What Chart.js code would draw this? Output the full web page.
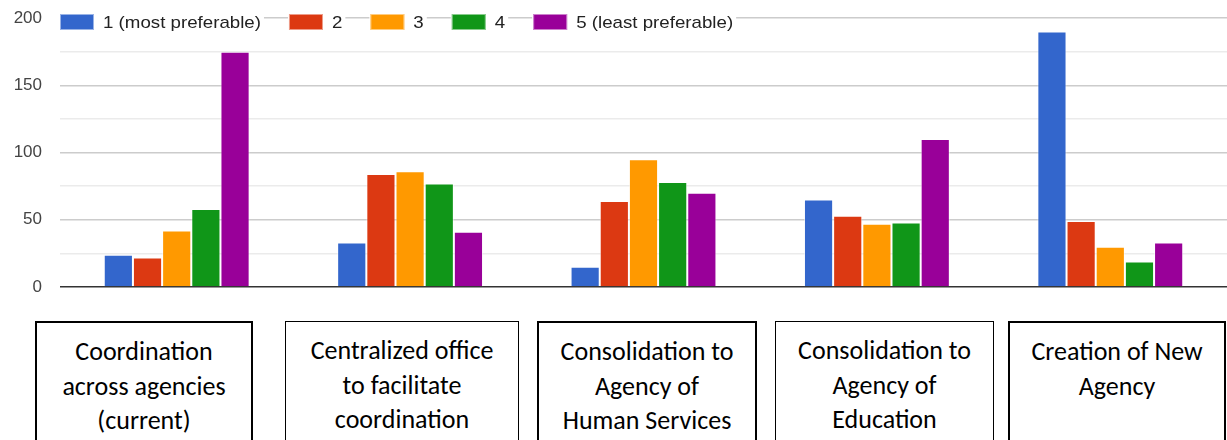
<!DOCTYPE html>
<html>
<head>
<meta charset="utf-8">
<script src="https://cdn.jsdelivr.net/npm/chart.js"></script>
<style>
  html, body { margin: 0; padding: 0; background: #fff; }
  body { width: 1227px; height: 440px; position: relative; overflow: hidden; }
  #wrap { position: absolute; left: 0; top: 0; width: 1227px; height: 316px; }
  .box {
    position: absolute; top: 321px; height: 140px; box-sizing: border-box;
    border: 2px solid #000; background: #fff; text-align: center;
    font-family: Carlito, Lato, "Open Sans", sans-serif; font-size: 26px;
    line-height: 34.5px; padding-top: 11px; color: #000;
  }
  .b0 { left: 35px; width: 218px; }
  .b1 { left: 285px; width: 234px; border-width: 1.5px; }
  .b2 { left: 537px; width: 220px; }
  .b3 { left: 775px; width: 219px; border-width: 1.5px; }
  .b4 { left: 1008px; width: 218px; }
</style>
</head>
<body>
<div id="wrap"><canvas id="chart" width="1227" height="316"></canvas></div>

<script>
// Categorías (una línea por renglón del recuadro)
var categories = [
    ['Coordination', 'across agencies', '(current)'],
    ['Centralized office', 'to facilitate', 'coordination'],
    ['Consolidation to', 'Agency of', 'Human Services'],
    ['Consolidation to', 'Agency of', 'Education'],
    ['Creation of New', 'Agency']
];

var seriesLabels = ['1 (most preferable)', '2', '3', '4', '5 (least preferable)'];
var seriesColors = ['#3366cc', '#dc3912', '#ff9900', '#109618', '#990099'];

// Valores
var rank1 = [24, 33, 15, 65, 190];
var rank2 = [22, 84, 64, 53, 49];
var rank3 = [42, 86, 95, 47, 30];
var rank4 = [58, 77, 78, 48, 19];
var rank5 = [175, 41, 70, 110, 33];

var yTickLabels = [0, 50, 100, 150, 200];
var yMax = 200;
var yStep = 25;

var seriesValues = [rank1, rank2, rank3, rank4, rank5];

// Recuadros de texto debajo del gráfico
categories.forEach(function(lines, i) {
    var div = document.createElement('div');
    div.className = 'box b' + i;
    div.innerHTML = lines.join('<br>');
    document.body.appendChild(div);
});

// Leyenda dibujada sobre la línea de 200 (estilo Google Charts)
var topLegend = {
    id: 'topLegend',
    afterDraw: function(chart) {
        var ctx = chart.ctx;
        var area = chart.chartArea;
        var stretch = 1.1;
        var boxW = 34, boxH = 16, gap = 9, itemGap = 28;
        var cy = area.top + 4;
        var x = area.left;
        ctx.save();
        ctx.font = '17px Arial, "Liberation Sans", sans-serif';
        ctx.textBaseline = 'middle';
        seriesLabels.forEach(function(label, i) {
            var tw = ctx.measureText(label).width * stretch;
            ctx.fillStyle = '#fff';
            ctx.fillRect(x - 1, cy - boxH / 2 - 2, boxW + gap + tw + 4, boxH + 4);
            ctx.fillStyle = seriesColors[i];
            ctx.fillRect(x, cy - boxH / 2, boxW, boxH);
            ctx.strokeStyle = 'rgba(255,255,255,0.5)';
            ctx.lineWidth = 1;
            ctx.strokeRect(x + 0.5, cy - boxH / 2 + 0.5, boxW - 1, boxH - 1);
            ctx.fillStyle = '#222';
            ctx.save();
            ctx.translate(x + boxW + gap, cy);
            ctx.scale(stretch, 1);
            ctx.fillText(label, 0, 1);
            ctx.restore();
            x += boxW + gap + tw + itemGap;
        });
        ctx.restore();
    }
};

var chart = new Chart(document.getElementById('chart'), {
    type: 'bar',
    data: {
        labels: categories,
        datasets: seriesLabels.map(function(label, i) {
            return {
                label: label,
                data: seriesValues[i],
                backgroundColor: seriesColors[i],
                borderColor: 'rgba(255,255,255,0.55)',
                borderWidth: 1,
                categoryPercentage: 0.625,
                barPercentage: 1
            };
        })
    },
    options: {
        responsive: false,
        animation: false,
        layout: { padding: { top: 18, bottom: 29, left: 0, right: 0 } },
        plugins: {
            legend: { display: false },
            tooltip: { enabled: false }
        },
        scales: {
            x: { display: false },
            y: {
                min: 0,
                max: yMax,
                border: { display: false },
                grid: {
                    drawTicks: false,
                    color: function(c) {
                        if (c.tick.value === 0) return '#333';
                        return yTickLabels.indexOf(c.tick.value) >= 0 ? '#cccccc' : '#ebebeb';
                    },
                    lineWidth: 1.5
                },
                ticks: {
                    stepSize: yStep,
                    padding: 18,
                    color: '#444',
                    font: { family: 'Arial, "Liberation Sans", sans-serif', size: 17 },
                    callback: function(value) {
                        return yTickLabels.indexOf(value) >= 0 ? value : '';
                    }
                },
                afterFit: function(scale) {
                    scale.width = 60;
                    scale.paddingTop = 0;
                    scale.paddingBottom = 0;
                }
            }
        }
    },
    plugins: [topLegend]
});
</script>
</body>
</html>
